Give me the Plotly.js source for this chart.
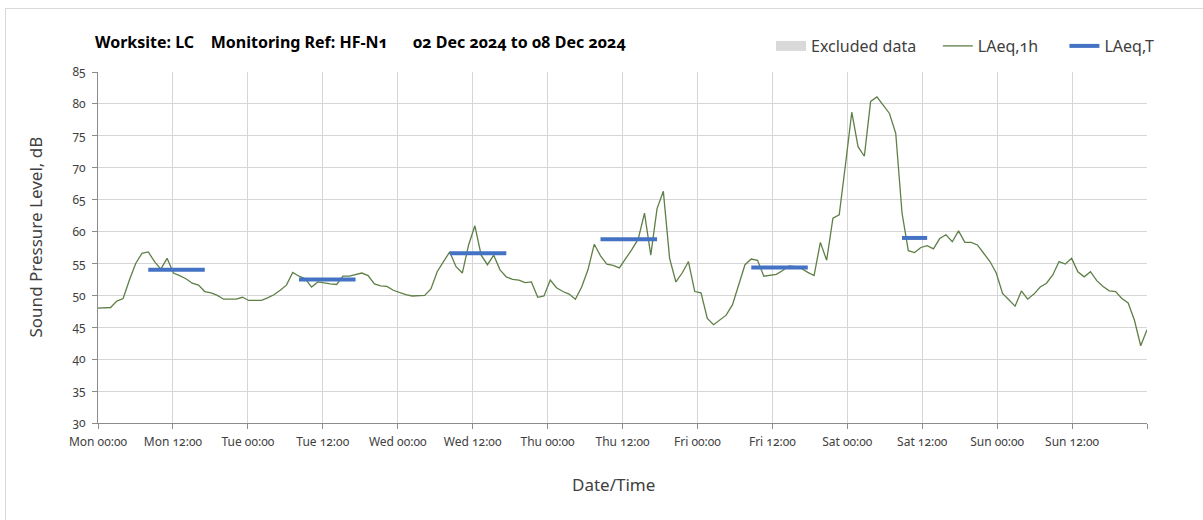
<!DOCTYPE html>
<html>
<head>
<meta charset="utf-8">
<script src="https://cdn.plot.ly/plotly-3.0.1.min.js"></script>
<style>
  html, body { margin: 0; padding: 0; background: #ffffff; }
  #wrap { position: relative; width: 1203px; height: 520px; overflow: hidden; }
  #chart { width: 1203px; height: 520px; }
  #frame { position: absolute; left: 5px; top: 8px; width: 1400px; height: 700px;
           border-left: 1px solid #d9d9d9; border-top: 1px solid #d9d9d9; pointer-events: none; }
  .main-svg text { font-feature-settings: "onum" 1; font-variant-numeric: oldstyle-nums; }
</style>
</head>
<body>
<div id="wrap">
  <div id="chart"></div>
  <div id="frame"></div>
</div>
<script>
// ---------------- data ----------------
const periodStart = '2024-12-02 00:00';
const periodEnd = '2024-12-09 00:00';

// LAeq,1h values, one per hour from Mon 02 Dec 2024 00:00 to Sun 08 Dec 2024 23:00
const laeq1h = [
  48.0, 48.0, 48.1, 49.1, 49.5, 52.4, 55.0, 56.6, 56.8, 55.3, 54.1, 55.8,
  53.5, 53.1, 52.6, 51.9, 51.6, 50.6, 50.4, 50.0, 49.4, 49.4, 49.4, 49.7,
  49.2, 49.2, 49.2, 49.6, 50.1, 50.8, 51.6, 53.6, 53.0, 52.6, 51.3, 52.1,
  51.9, 51.8, 51.7, 53.0, 53.0, 53.2, 53.5, 53.1, 51.8, 51.5, 51.4, 50.8,
  50.4, 50.1, 49.9, 49.9, 50.0, 51.0, 53.7, 55.3, 56.8, 54.5, 53.5, 57.9,
  60.9, 56.3, 54.8, 56.3, 54.0, 52.9, 52.5, 52.4, 52.0, 52.1, 49.7, 49.9,
  52.4, 51.2, 50.6, 50.2, 49.4, 51.3, 54.0, 58.0, 56.2, 54.9, 54.7, 54.3,
  55.7, 57.2, 58.8, 62.9, 56.3, 63.6, 66.3, 55.8, 52.1, 53.5, 55.3, 50.6,
  50.4, 46.4, 45.4, 46.1, 46.9, 48.5, 51.6, 54.8, 55.7, 55.5, 53.0, 53.2,
  53.3, 53.9, 54.6, 54.5, 54.2, 53.6, 53.1, 58.3, 55.5, 62.1, 62.6, 70.5,
  78.7, 73.3, 71.8, 80.4, 81.1, 79.8, 78.5, 75.4, 62.9, 57.0, 56.7, 57.5,
  57.8, 57.3, 58.9, 59.5, 58.4, 60.1, 58.3, 58.3, 57.9, 56.6, 55.3, 53.5,
  50.3, 49.3, 48.3, 50.7, 49.4, 50.2, 51.3, 51.9, 53.2, 55.3, 54.9, 55.8,
  53.7, 52.9, 53.7, 52.3, 51.4, 50.7, 50.6, 49.5, 48.8, 46.1, 42.1, 44.6
];

// LAeq,T periods
const periodDays   = ['2024-12-02', '2024-12-03', '2024-12-04', '2024-12-05', '2024-12-06', '2024-12-07'];
const periodFrom   = ['08:00', '08:00', '08:00', '08:00', '08:00', '08:00'];
const periodTo     = ['17:00', '17:00', '17:00', '17:00', '17:00', '12:00'];
const laeqT        = [54.0, 52.5, 56.6, 58.8, 54.35, 59.0];

// excluded data (none in this week)
const excludedTimes = [periodStart];
const excludedLevels = [null];

// axis ticks (every 12 h)
const tickTimes = [
  '2024-12-02 00:00', '2024-12-02 12:00', '2024-12-03 00:00', '2024-12-03 12:00',
  '2024-12-04 00:00', '2024-12-04 12:00', '2024-12-05 00:00', '2024-12-05 12:00',
  '2024-12-06 00:00', '2024-12-06 12:00', '2024-12-07 00:00', '2024-12-07 12:00',
  '2024-12-08 00:00', '2024-12-08 12:00', '2024-12-09 00:00'
];
const tickLabels = [
  'Mon 00:00', 'Mon 12:00', 'Tue 00:00', 'Tue 12:00', 'Wed 00:00', 'Wed 12:00',
  'Thu 00:00', 'Thu 12:00', 'Fri 00:00', 'Fri 12:00', 'Sat 00:00', 'Sat 12:00',
  'Sun 00:00', 'Sun 12:00', ''
];
const yTicks = [30, 35, 40, 45, 50, 55, 60, 65, 70, 75, 80, 85];

// ---------------- build ----------------
function hourStamp(base, h) {
  const d = new Date(Date.parse(base.replace(' ', 'T') + ':00Z') + h * 3600000);
  return d.toISOString().slice(0, 16).replace('T', ' ');
}
const hourTimes = laeq1h.map((v, i) => hourStamp(periodStart, i));

const barX = [], barY = [];
periodDays.forEach((d, i) => {
  barX.push(d + ' ' + periodFrom[i], d + ' ' + periodTo[i], null);
  barY.push(laeqT[i], laeqT[i], null);
});

const FONT = '"Noto Sans", "Open Sans", sans-serif';
const TXT = '#404040';

const traces = [
  { type: 'scatter', mode: 'lines', name: 'Excluded data\u00a0\u00a0\u00a0\u00a0',
    x: excludedTimes, y: excludedLevels, xaxis: 'x2', yaxis: 'y',
    line: { color: '#d9d9d9', width: 10 }, hoverinfo: 'skip' },
  { type: 'scatter', mode: 'lines', name: 'LAeq,1h\u00a0\u00a0\u00a0\u00a0\u00a0',
    x: hourTimes, y: laeq1h, xaxis: 'x', yaxis: 'y',
    line: { color: '#5e7f46', width: 1.3 } },
  { type: 'scatter', mode: 'lines', name: 'LAeq,T',
    x: barX, y: barY, xaxis: 'x', yaxis: 'y', connectgaps: false,
    line: { color: '#4472c4', width: 4 } }
];

const layout = {
  width: 1203, height: 520,
  paper_bgcolor: '#ffffff', plot_bgcolor: '#ffffff',
  margin: { l: 98, r: 56, t: 72, b: 97 },
  font: { family: FONT, color: TXT, size: 12 },
  title: {
    text: '<b>Worksite: LC\u00a0\u00a0\u00a0 Monitoring Ref: HF-N1\u00a0\u00a0\u00a0\u00a0\u00a0 02 Dec 2024 to 08 Dec 2024</b>',
    font: { family: FONT, size: 16, color: '#000000' },
    x: 95 / 1203, xanchor: 'left', xref: 'container',
    y: 1 - 42 / 520, yanchor: 'middle', yref: 'container'
  },
  showlegend: true,
  legend: {
    orientation: 'h', x: (771 - 98) / 1049, xanchor: 'left',
    y: (423 - 46) / 351, yanchor: 'middle',
    font: { family: FONT, size: 16, color: TXT },
    bgcolor: 'rgba(0,0,0,0)', borderwidth: 0
  },
  xaxis: {
    type: 'date', range: [hourTimes[0], hourTimes[hourTimes.length - 1]],
    visible: false, showgrid: false, zeroline: false, fixedrange: true
  },
  xaxis2: {
    type: 'date', overlaying: 'x', anchor: 'y', side: 'bottom',
    range: [periodStart, periodEnd],
    tickmode: 'array', tickvals: tickTimes, ticktext: tickLabels,
    showgrid: true, gridcolor: '#d6d6d6', gridwidth: 1,
    showline: true, linecolor: '#8c8c8c', linewidth: 1,
    ticks: 'outside', ticklen: 5, tickcolor: '#8c8c8c', ticklabelstandoff: 3,
    tickfont: { family: FONT, size: 12, color: TXT },
    zeroline: false
  },
  yaxis: {
    range: [30, 85], tickmode: 'array', tickvals: yTicks,
    showgrid: true, gridcolor: '#d6d6d6', gridwidth: 1,
    showline: true, linecolor: '#8c8c8c', linewidth: 1,
    ticks: 'outside', ticklen: 5, tickcolor: '#8c8c8c', ticklabelstandoff: 4,
    tickfont: { family: FONT, size: 12, color: TXT },
    zeroline: false
  },
  annotations: [
    { text: 'Date/Time', xref: 'paper', yref: 'paper',
      x: (613.5 - 98) / 1049, y: (423 - 484) / 351, xanchor: 'center', yanchor: 'middle',
      showarrow: false, font: { family: FONT, size: 17, color: TXT } },
    { text: 'Sound Pressure Level, dB', xref: 'paper', yref: 'paper', textangle: -90,
      x: (35 - 98) / 1049, y: (423 - 237.5) / 351, xanchor: 'center', yanchor: 'middle',
      showarrow: false, font: { family: FONT, size: 17, color: TXT } }
  ]
};

Plotly.newPlot('chart', traces, layout, { staticPlot: true, displayModeBar: false });
</script>
</body>
</html>
